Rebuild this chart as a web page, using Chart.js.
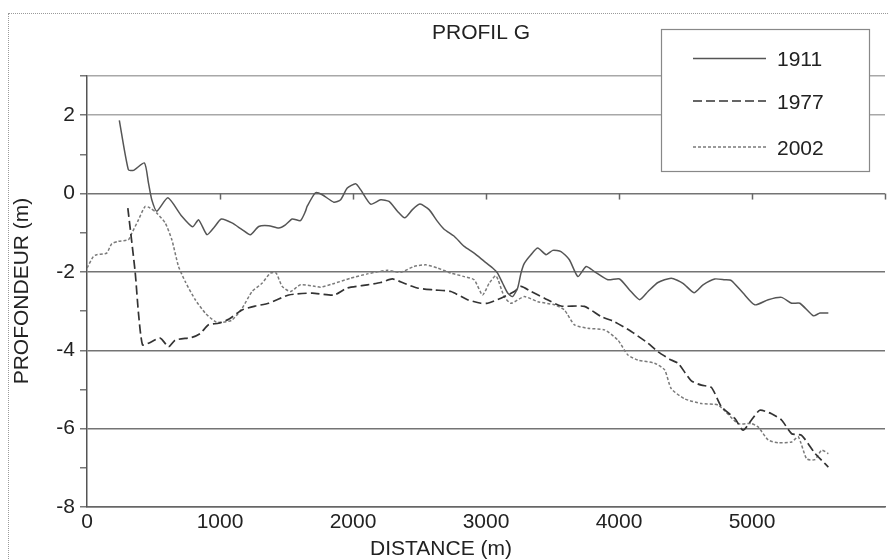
<!DOCTYPE html>
<html>
<head>
<meta charset="utf-8">
<script src="https://cdn.jsdelivr.net/npm/chart.js@4.4.1/dist/chart.umd.min.js"></script>
<style>
  html, body { margin: 0; padding: 0; background: #fff; }
  #wrap { position: relative; width: 888px; height: 560px; overflow: hidden; }
  #frame { position: absolute; left: 8px; top: 13px; width: 900px; height: 600px; border: 1px dotted #9a9a9a; }
  #chart { position: absolute; left: 0; top: 0; }
</style>
</head>
<body>
<div id="wrap">
  <div id="frame"></div>
  <canvas id="chart" width="888" height="560"></canvas>
</div>
<script>
// -- Data (distance in m, depth in m) --
var dist1911 = [243, 311, 349, 432, 462, 487, 525, 608, 713, 794, 839, 902, 952, 1010, 1090, 1166, 1228, 1291, 1366, 1442, 1492, 1543, 1605, 1643, 1655, 1718, 1769, 1856, 1907, 1957, 2020, 2057, 2133, 2208, 2271, 2334, 2389, 2447, 2504, 2572, 2635, 2685, 2761, 2836, 2911, 2987, 3050, 3087, 3125, 3163, 3200, 3238, 3263, 3288, 3338, 3389, 3452, 3502, 3564, 3627, 3691, 3753, 3815, 3916, 4004, 4079, 4155, 4218, 4293, 4393, 4481, 4564, 4632, 4720, 4795, 4845, 4933, 5021, 5122, 5222, 5298, 5360, 5461, 5511, 5574];
var depth1911 = [1.87, 0.61, 0.59, 0.78, 0.27, -0.16, -0.45, -0.11, -0.58, -0.85, -0.67, -1.05, -0.88, -0.65, -0.75, -0.92, -1.05, -0.84, -0.82, -0.88, -0.80, -0.65, -0.69, -0.45, -0.33, 0.02, -0.03, -0.22, -0.16, 0.14, 0.25, 0.10, -0.27, -0.16, -0.20, -0.45, -0.62, -0.41, -0.27, -0.41, -0.71, -0.91, -1.09, -1.35, -1.52, -1.73, -1.90, -2.03, -2.29, -2.54, -2.63, -2.41, -2.03, -1.78, -1.56, -1.39, -1.56, -1.45, -1.48, -1.69, -2.12, -1.86, -1.99, -2.20, -2.18, -2.46, -2.71, -2.50, -2.27, -2.16, -2.29, -2.53, -2.33, -2.18, -2.20, -2.22, -2.54, -2.84, -2.71, -2.65, -2.80, -2.80, -3.12, -3.05, -3.05];

var dist1977 = [307, 362, 387, 417, 462, 550, 613, 663, 789, 852, 914, 990, 1065, 1166, 1266, 1366, 1517, 1693, 1856, 1957, 2108, 2208, 2296, 2384, 2484, 2610, 2736, 2861, 2962, 3012, 3112, 3213, 3263, 3338, 3439, 3564, 3740, 3866, 3966, 4092, 4218, 4293, 4393, 4444, 4544, 4620, 4695, 4770, 4871, 4933, 4996, 5059, 5147, 5222, 5298, 5373, 5473, 5524, 5574];
var depth1977 = [-0.37, -2.00, -3.05, -3.86, -3.82, -3.69, -3.91, -3.74, -3.67, -3.57, -3.35, -3.31, -3.21, -2.97, -2.87, -2.80, -2.59, -2.54, -2.59, -2.41, -2.33, -2.27, -2.18, -2.29, -2.41, -2.46, -2.50, -2.71, -2.80, -2.80, -2.67, -2.50, -2.37, -2.50, -2.67, -2.87, -2.88, -3.14, -3.27, -3.52, -3.82, -4.04, -4.25, -4.33, -4.78, -4.89, -4.95, -5.44, -5.74, -6.04, -5.78, -5.53, -5.62, -5.78, -6.13, -6.17, -6.63, -6.81, -6.98];

var dist2002 = [0, 47, 73, 148, 186, 236, 311, 337, 387, 437, 475, 525, 588, 638, 688, 739, 814, 889, 965, 1015, 1090, 1166, 1241, 1316, 1379, 1422, 1467, 1530, 1605, 1718, 1756, 1844, 1982, 2108, 2259, 2359, 2459, 2547, 2635, 2736, 2836, 2911, 2974, 3024, 3075, 3137, 3188, 3288, 3389, 3514, 3589, 3665, 3766, 3891, 3992, 4067, 4143, 4268, 4343, 4393, 4494, 4620, 4745, 4896, 4996, 5047, 5122, 5198, 5298, 5348, 5411, 5473, 5524, 5574];
var depth2002 = [-1.90, -1.61, -1.56, -1.52, -1.28, -1.22, -1.18, -1.01, -0.67, -0.33, -0.37, -0.50, -0.75, -1.18, -1.86, -2.25, -2.71, -3.05, -3.27, -3.29, -3.23, -2.93, -2.50, -2.29, -2.03, -2.03, -2.37, -2.50, -2.33, -2.37, -2.39, -2.31, -2.16, -2.05, -1.96, -2.01, -1.86, -1.82, -1.90, -2.03, -2.12, -2.20, -2.59, -2.29, -2.10, -2.63, -2.80, -2.63, -2.76, -2.84, -2.97, -3.35, -3.44, -3.48, -3.74, -4.12, -4.25, -4.33, -4.50, -4.98, -5.24, -5.36, -5.40, -5.87, -5.87, -5.96, -6.29, -6.36, -6.34, -6.21, -6.77, -6.79, -6.55, -6.64];

var seriesLabels = ['1911', '1977', '2002'];
var xTickValues = [0, 1000, 2000, 3000, 4000, 5000];
var yTickValues = [2, 0, -2, -4, -6, -8];

var FONT = "'Liberation Sans', Arial, sans-serif";
var TEXT_COLOR = '#222';

function toPoints(xs, ys) {
  return xs.map(function (x, i) { return { x: x, y: ys[i] }; });
}

// -- Title, axis titles, zero-line ticks and boxed legend --
var decor = {
  id: 'decor',
  afterDraw: function (chart) {
    var c = chart.ctx;
    var xs = chart.scales.x, ys = chart.scales.y;
    c.save();

    // small ticks hanging from the zero line
    var y0 = ys.getPixelForValue(0);
    c.strokeStyle = '#666';
    c.lineWidth = 1.5;
    for (var v = 1000; v <= 6000; v += 1000) {
      var px = Math.round(xs.getPixelForValue(v)) + 0.5;
      c.beginPath();
      c.moveTo(px, y0);
      c.lineTo(px, y0 + 6);
      c.stroke();
    }

    c.fillStyle = TEXT_COLOR;
    c.font = '21px ' + FONT;
    c.textAlign = 'center';
    c.textBaseline = 'middle';
    c.fillText('PROFIL G', 481, 33);
    c.fillText('DISTANCE (m)', 441, 549);

    c.save();
    c.translate(22, 291);
    c.rotate(-Math.PI / 2);
    c.fillText('PROFONDEUR (m)', 0, 0);
    c.restore();

    // legend box
    c.fillStyle = '#fff';
    c.fillRect(661, 29, 209, 143);
    c.strokeStyle = '#888';
    c.lineWidth = 1.2;
    c.strokeRect(661.5, 29.5, 208, 142);

    var rows = [58.5, 101, 147];
    chart.data.datasets.forEach(function (ds, i) {
      c.strokeStyle = ds.borderColor;
      c.lineWidth = ds.borderWidth;
      c.setLineDash(ds.borderDash || []);
      c.beginPath();
      c.moveTo(693, rows[i]);
      c.lineTo(766, rows[i]);
      c.stroke();
      c.setLineDash([]);
      c.fillStyle = TEXT_COLOR;
      c.textAlign = 'left';
      c.fillText(ds.label, 777, rows[i] + 2);
    });

    c.restore();
  }
};

var ctx = document.getElementById('chart');
new Chart(ctx, {
  type: 'line',
  data: {
    datasets: [
      {
        label: seriesLabels[0],
        data: toPoints(dist1911, depth1911),
        borderColor: '#555',
        borderWidth: 1.5,
        pointRadius: 0,
        tension: 0.2,
        fill: false,
      },
      {
        label: seriesLabels[1],
        data: toPoints(dist1977, depth1977),
        borderColor: '#333',
        borderWidth: 1.7,
        borderDash: [9, 4],
        pointRadius: 0,
        tension: 0.2,
        fill: false,
      },
      {
        label: seriesLabels[2],
        data: toPoints(dist2002, depth2002),
        borderColor: '#7a7a7a',
        borderWidth: 1.5,
        borderDash: [3, 2],
        pointRadius: 0,
        tension: 0.2,
        fill: false,
      }
    ]
  },
  options: {
    responsive: false,
    animation: false,
    events: [],
    layout: { padding: { top: 76, right: 3, left: 0, bottom: 0 } },
    plugins: {
      legend: { display: false },
      tooltip: { enabled: false },
      title: { display: false },
    },
    scales: {
      x: {
        type: 'linear',
        min: 0,
        max: 6000,
        afterBuildTicks: function (s) {
          s.ticks = xTickValues.map(function (v) { return { value: v }; });
        },
        afterFit: function (s) { s.height = 53; },
        grid: { color: 'rgba(0,0,0,0)', drawTicks: false },
        border: { display: true, color: '#666', width: 1.5 },
        ticks: {
          padding: 3,
          color: TEXT_COLOR,
          font: { family: FONT, size: 21 },
          maxRotation: 0,
          autoSkip: false,
          callback: function (v) { return String(v); },
        },
      },
      y: {
        type: 'linear',
        min: -8,
        max: 3,
        afterBuildTicks: function (s) {
          var t = [];
          for (var v = 3; v >= -8; v--) t.push({ value: v });
          s.ticks = t;
        },
        afterFit: function (s) { s.width = 87; },
        grid: {
          lineWidth: 1.5,
          tickLength: 7,
          tickColor: '#777',
          color: function (c) {
            var v = c.tick && c.tick.value;
            if (v === 3 || v === 2) return '#a8a8a8';
            if (yTickValues.indexOf(v) >= 0) return '#747474';
            return 'rgba(0,0,0,0)';
          },
        },
        border: { display: true, color: '#555', width: 1.5 },
        ticks: {
          padding: 5,
          color: TEXT_COLOR,
          font: { family: FONT, size: 21 },
          autoSkip: false,
          callback: function (v) {
            return yTickValues.indexOf(v) >= 0 ? String(v) : '';
          },
        },
      },
    },
  },
  plugins: [decor]
});
</script>
</body>
</html>
